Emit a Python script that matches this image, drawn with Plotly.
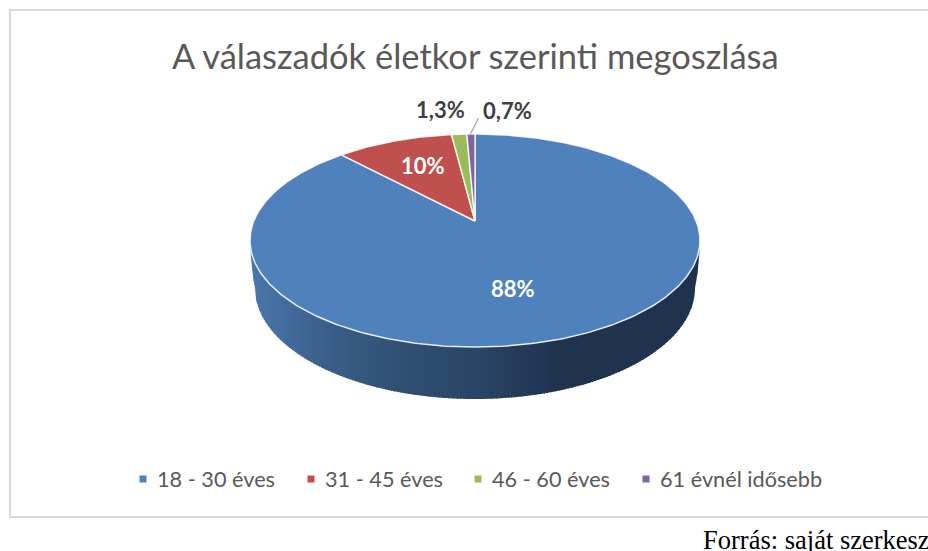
import numpy as np
import plotly.graph_objs as go

categories = ["18 - 30 éves", "31 - 45 éves", "46 - 60 éves", "61 évnél idősebb"]
shares = [88, 10, 1.3, 0.7]
value_labels = ["88%", "10%", "1,3%", "0,7%"]
colors = ["#4f81bd", "#c0504d", "#9bbb59", "#8064a2"]

W, H = 928, 551
CX, CY, RX, RY = 475, 240.5, 225, 106.5
TILT = 0.183  # pie centre sits above the ellipse centre (perspective)
CY2, RX2, RY2 = 288, 220, 111

# gradient of the pie's side, left to right
side_x = [250, 300, 350, 400, 475, 560, 700]
side_col = [(74, 120, 172), (63, 103, 150), (56, 90, 130), (48, 80, 116), (42, 70, 102), (31, 51, 79), (31, 52, 78)]


def rim(share_pos):
    # share_pos is in percent, clockwise from 12 o'clock
    a = np.asarray(share_pos) / 100 * 2 * np.pi
    u, v = np.sin(a), np.cos(a)
    d = 1 + TILT * v
    return CX + RX * u * np.sqrt(1 - TILT**2) / d, CY - RY * (v + TILT) / d


fig = go.Figure()

# side of the pie, narrow strips so the gradient shows
edges = np.arange(250, 700, 3.0)
for x0 in edges:
    xs = np.linspace(x0, min(x0 + 4, 700), 5)
    top = CY + RY * np.sqrt(np.clip(1 - ((xs - CX) / RX) ** 2, 0, 1))
    low = CY2 + RY2 * np.sqrt(np.clip(1 - ((xs - CX) / RX2) ** 2, 0, 1))
    # the outermost few pixels slope in from the rim to the bottom ellipse
    t = np.clip((np.abs(xs - CX) - RX2) / (RX - RX2), 0, 1)
    low = low + t * (top - low)
    rgb = [np.interp(x0 + 2, side_x, [c[i] for c in side_col]) for i in range(3)]
    col = "rgb(%d,%d,%d)" % tuple(rgb)
    fig.add_trace(go.Scatter(x=np.r_[xs, xs[::-1]], y=np.r_[top, low[::-1]], fill="toself", mode="none",
                             fillcolor=col, showlegend=False, hoverinfo="skip"))

# top of the pie
apex_y = CY - RY * TILT
start = 0
for name, share, col in zip(categories, shares, colors):
    pos = np.linspace(start, start + share, max(int(share * 4), 8))
    rx_, ry_ = rim(pos)
    fig.add_trace(go.Scatter(x=np.r_[CX, rx_, CX], y=np.r_[apex_y, ry_, apex_y], fill="toself", mode="lines",
                             fillcolor=col, line=dict(color="rgba(255,255,255,0.85)", width=1.5),
                             name=name, showlegend=False, hoverinfo="skip"))
    start += share

# leader line for the smallest slice
fig.add_trace(go.Scatter(x=[478.5, 470.5], y=[118, 134], mode="lines", line=dict(color="#a6a6a6", width=1.2),
                         showlegend=False, hoverinfo="skip"))

# legend
legend_mark_x = [143, 311, 478, 646]
legend_y = 479
for name, col, x in zip(categories, colors, legend_mark_x):
    fig.add_trace(go.Scatter(x=[x], y=[legend_y], mode="markers", marker=dict(symbol="square", size=7, color=col),
                             showlegend=False, hoverinfo="skip"))
    fig.add_annotation(x=x + 11.5, y=legend_y, text=name, xanchor="left", yanchor="middle", showarrow=False,
                       font=dict(family="Lato", size=21.7, color="#595959"))

# data labels
label_xy = [(513, 288.5), (423, 165.5), (440, 109.5), (507, 110.5)]
label_col = ["white", "white", "#404040", "#404040"]
for text, (x, y), col in zip(value_labels, label_xy, label_col):
    fig.add_annotation(x=x, y=y, text="<b>%s</b>" % text, showarrow=False,
                       font=dict(family="Lato", size=22, color=col))

fig.add_annotation(x=475, y=55, text="A válaszadók életkor szerinti megoszlása", showarrow=False,
                   font=dict(family="Lato", size=34.5, color="#595959"))
fig.add_annotation(x=701, y=540, text="Forrás: saját szerkesz", xanchor="left", showarrow=False,
                   font=dict(family="Liberation Serif", size=26.5, color="black"))

# chart frame
fig.add_shape(type="rect", x0=10, y0=10, x1=940, y1=517, line=dict(color="#d9d9d9", width=2))

fig.update_xaxes(range=[0, W], visible=False)
fig.update_yaxes(range=[H, 0], visible=False)
fig.update_layout(width=W, height=H, margin=dict(l=0, r=0, t=0, b=0), plot_bgcolor="white", paper_bgcolor="white")
fig.write_html("out.html", config=dict(displayModeBar=False),
               post_script="document.body.style.margin='0';document.body.style.overflow='hidden';")
